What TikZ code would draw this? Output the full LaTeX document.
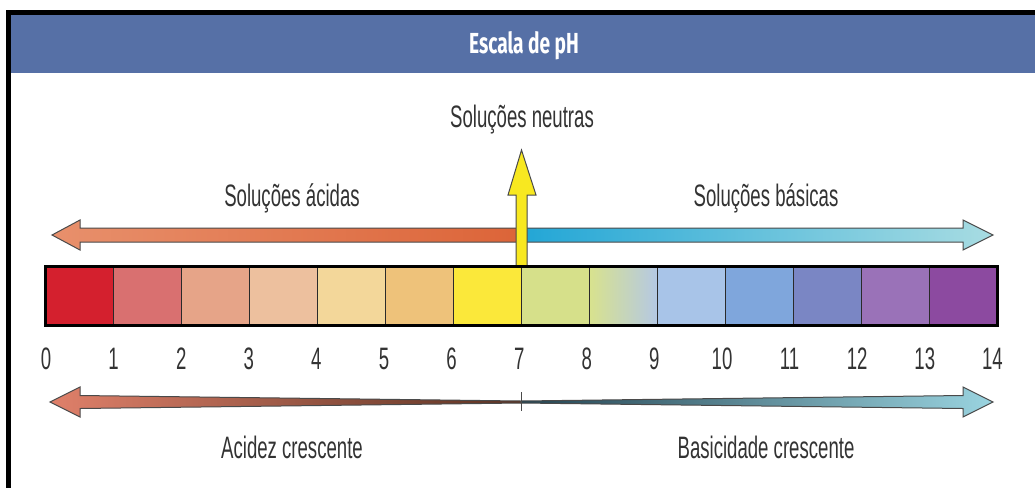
\documentclass[tikz,border=0pt]{standalone}
\usepackage{fontspec}
\newfontfamily\cond[FakeStretch=0.6]{Liberation Sans}
\newfontfamily\titlefont[FakeStretch=0.66]{Fira Sans}
\definecolor{titleblue}{HTML}{5670A6}
\definecolor{txtgray}{HTML}{333333}
\definecolor{outl}{HTML}{4A4A4A}
\definecolor{sep}{HTML}{2A2A2A}
\definecolor{c0}{HTML}{D4202E}
\definecolor{c1}{HTML}{D97070}
\definecolor{c2}{HTML}{E6A488}
\definecolor{c3}{HTML}{EDC09E}
\definecolor{c4}{HTML}{F3D79A}
\definecolor{c5}{HTML}{EEC27A}
\definecolor{c6}{HTML}{FBE83A}
\definecolor{c7}{HTML}{D6E08A}
\definecolor{c8a}{HTML}{D8E28E}
\definecolor{c8b}{HTML}{9CCB74}
\definecolor{c8c}{HTML}{B4C8E4}
\definecolor{c9}{HTML}{A8C4E8}
\definecolor{c10}{HTML}{7FA6DC}
\definecolor{c11}{HTML}{7A86C4}
\definecolor{c12}{HTML}{9A72B8}
\definecolor{c13}{HTML}{8C4AA0}
\definecolor{salmon}{HTML}{E8906C}
\definecolor{orangeR}{HTML}{DC6438}
\definecolor{blueB}{HTML}{22A6D6}
\definecolor{paleC}{HTML}{A8DCE2}
\definecolor{salmonB}{HTML}{E0806A}
\definecolor{brownB}{HTML}{5A3222}
\definecolor{tealB}{HTML}{244452}
\definecolor{paleB}{HTML}{9AD4E0}
\definecolor{yel}{HTML}{F8E820}
\begin{document}
\begin{tikzpicture}[x=1pt,y=-1pt,
  lbl/.style={font=\cond\fontsize{31}{31}\selectfont, text=txtgray, inner sep=0pt, anchor=base},
  cellbox/.style={draw=sep, line width=1.4pt, minimum width=68pt, minimum height=59pt, inner sep=0pt, anchor=north west},
  arrowshape/.style={draw=outl, line width=1pt, line join=miter}]
\useasboundingbox (0,0) rectangle (1035,488);
\fill[white] (0,0) rectangle (1035,488);
% frame and title band
\fill[titleblue] (11,15) rectangle (1035,73);
\fill[black] (6,10) rectangle (1035,15);
\fill[black] (6,10) rectangle (11,488);
\node[font=\titlefont\bfseries\fontsize{29}{29}\selectfont, text=white, inner sep=0pt, anchor=base] (title) at (524,53) {Escala de pH};
% top arrows
\path[arrowshape, left color=salmon, right color=orangeR] (52,235) -- (80,220) -- (80,228) -- (521,228) -- (521,242) -- (80,242) -- (80,250) -- cycle;
\path[arrowshape, left color=blueB, right color=paleC] (521,228) -- (963,228) -- (963,220) -- (993,235) -- (963,250) -- (963,242) -- (521,242) -- cycle;
% neutral arrow
\path[arrowshape, fill=yel] (516,266) -- (516,195) -- (508,195) -- (521.5,150) -- (536,195) -- (527,195) -- (527,266) -- cycle;
% colour cells
\foreach \i/\c in {0/c0,1/c1,2/c2,3/c3,4/c4,5/c5,6/c6,7/c7,9/c9,10/c10,11/c11,12/c12,13/c13}{
  \node[cellbox, fill=\c] (cell\i) at ({45+68*\i},266) {};
}
\node[cellbox, left color=c8a, middle color=c8b, right color=c8c] (cell8) at ({45+68*8},266) {};
\draw[black, line width=3pt] (45,266) rectangle (997,325);
% numbers
\foreach \i in {0,...,14}{
  \node[lbl] (n\i) at ({46+67.6*\i},369) {\i};
}
% labels
\node[lbl] (neutras) at (522,127) {Soluções neutras};
\node[lbl] (acidas) at (292,206) {Soluções ácidas};
\node[lbl] (basicas) at (766,206) {Soluções básicas};
\node[lbl] (acidez) at (292,458) {Acidez crescente};
\node[lbl] (basic) at (766,458) {Basicidade crescente};
% bottom arrows
\path[arrowshape, left color=salmonB, right color=brownB] (50,402) -- (80,387) -- (80,395.5) -- (521,401) -- (521,403) -- (80,408.5) -- (80,417) -- cycle;
\path[arrowshape, left color=tealB, right color=paleB] (521,401) -- (963,395.5) -- (963,387) -- (993,402) -- (963,417) -- (963,408.5) -- (521,403) -- cycle;
\coordinate (tickTop) at (521,392);
\coordinate (tickBot) at (521,411);
\draw[outl, line width=1pt] (tickTop) -- (tickBot);
\end{tikzpicture}
\end{document}
